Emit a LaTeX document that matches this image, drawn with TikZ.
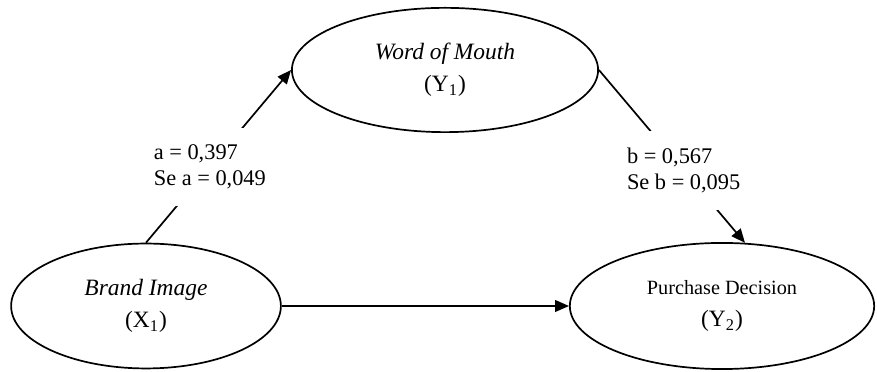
\documentclass[tikz,border=0pt]{standalone}
\usepackage{fontspec}
\setmainfont{Liberation Serif}
\usetikzlibrary{shapes,arrows.meta,positioning}

\begin{document}
\begin{tikzpicture}[x=0.0165cm, y=0.0165cm,
    var/.style={ellipse, draw, line width=0.8pt, inner sep=0pt, align=center, font=\fontsize{11}{15}\selectfont},
    link/.style={line width=0.8pt, -{Triangle[length=6.5pt,width=5.5pt]}},
    coef/.style={fill=white, align=left, inner xsep=1pt, inner ysep=8pt, font=\fontsize{10.5}{12.2}\selectfont}]
    \useasboundingbox (0,0) rectangle (877,372);

    % Variables
    \node [var, minimum width=5.05cm, minimum height=2.05cm] (wom) at (445,302) {\textit{Word of Mouth}\\(Y\textsubscript{1})};
    \node [var, minimum width=4.45cm, minimum height=2.06cm] (bi) at (146,66) {\textit{Brand Image}\\(X\textsubscript{1})};
    \node [var, minimum width=5.02cm, minimum height=2.08cm] (pd) at (722,66) {{\fontsize{9.5}{15}\selectfont Purchase Decision}\\(Y\textsubscript{2})};

    % Paths
    \draw [link] (bi.north) -- (wom.west) node [coef, pos=0.44] {a = 0,397\\Se a = 0,049};
    \draw [link] (wom.east) -- (pd.70) node [coef, pos=0.58] {b = 0,567\\Se b = 0,095};
    \draw [link] (bi.east) -- (pd.west);
\end{tikzpicture}
\end{document}
